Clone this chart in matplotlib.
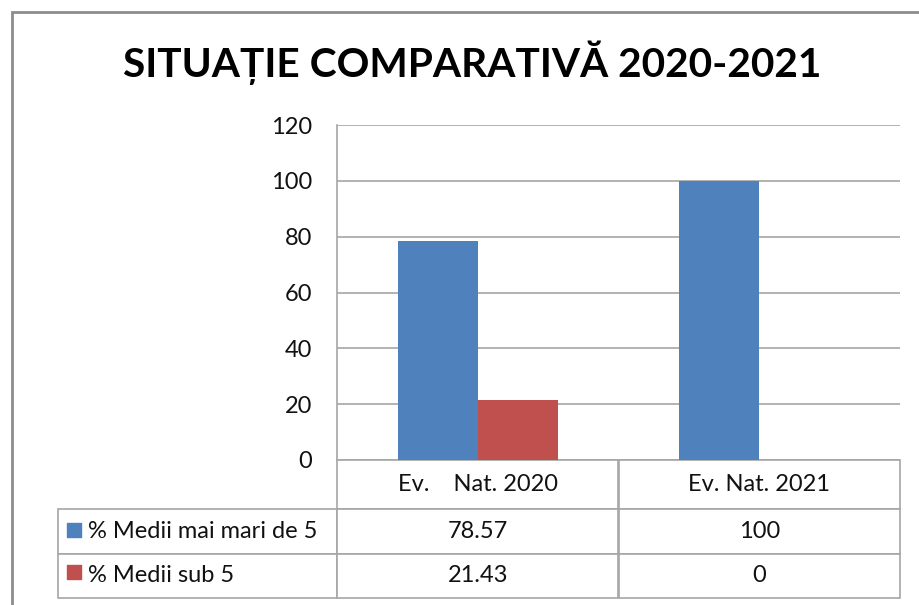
import matplotlib
matplotlib.use("Agg")
import matplotlib.pyplot as plt
from matplotlib.patches import Rectangle
import numpy as np

# ---- data ----
categories = ["Ev.    Nat. 2020", "Ev. Nat. 2021"]
series_names = ["% Medii mai mari de 5", "% Medii sub 5"]
series_above = [78.57, 100]
series_below = [21.43, 0]
cell_text = [["78.57", "100"], ["21.43", "0"]]
y_ticks = [0, 20, 40, 60, 80, 100, 120]
title = "SITUAȚIE COMPARATIVĂ 2020-2021"

colors = ["#4F81BD", "#C0504D"]
grid_col = "#a6a6a6"

plt.rcParams['font.family'] = ['Lato', 'DejaVu Sans']

W, H = 920, 605
fig = plt.figure(figsize=(W / 100, H / 100), dpi=100)

def fx(px):
    return px / W

def fy(py):
    return 1 - py / H

# chart border
fig.add_artist(Rectangle((fx(12), fy(640)), fx(940) - fx(12), fy(12) - fy(640),
                         transform=fig.transFigure, fill=False,
                         edgecolor="#8c8c8c", linewidth=2))

# plot area
L, R, T, B = 337, 900, 125, 460
PW, PH = R - L, B - T
ax = fig.add_axes([fx(L), fy(B), fx(R) - fx(L), fy(T) - fy(B)])

x = np.arange(len(categories))
bw = 80 / 281.5
ax.bar(x - bw / 2, series_above, bw, color=colors[0], zorder=3)
ax.bar(x + bw / 2, series_below, bw, color=colors[1], zorder=3)
ax.set_xlim(-0.5, len(categories) - 0.5)
ax.set_ylim(0, 120)
ax.set_yticks(y_ticks)
ax.set_yticklabels([str(t) for t in y_ticks], fontsize=17, color="#111111")
ax.tick_params(axis='y', length=0, pad=18)
ax.set_xticks([])
ax.yaxis.grid(True, color=grid_col, linewidth=1.2, zorder=0)
ax.set_axisbelow(True)
for s in ["top", "right", "bottom"]:
    ax.spines[s].set_visible(False)
ax.spines["left"].set_color(grid_col)
ax.spines["left"].set_linewidth(1.2)

# data table (bbox covers the data cells incl. header row; row labels extend left)
ty1 = 598
bbox = [0, -(ty1 - B) / PH, 1, (ty1 - B) / PH]
tbl = ax.table(cellText=cell_text, rowLabels=series_names, colLabels=categories,
               cellLoc='center', rowLoc='left', colLoc='center',
               colWidths=[281.5 / PW, 281.5 / PW], bbox=bbox)
tbl.auto_set_font_size(False)
tbl.set_fontsize(17)
row_h = {0: 49, 1: 45, 2: 44}
for (r, c), cell in tbl.get_celld().items():
    cell.set_edgecolor(grid_col)
    cell.set_linewidth(1.2)
    cell.set_height(row_h[r] / PH)
    cell.get_text().set_color("#111111")
    if c == -1:
        cell.set_width(280 / PW)
        cell.PAD = 30 / 280

# legend keys in the table
for i, col in enumerate(colors):
    yc = [530, 572][i]
    ax.scatter([(74 - L) / PW], [-(yc - B) / PH], marker='s', s=105,
               color=col, transform=ax.transAxes, clip_on=False, zorder=5)

t = fig.text(fx(472), fy(63), title, ha='center', va='center',
             fontsize=35, fontweight='bold')
# fit title width to the reference span (~700 px)
r = fig.canvas.get_renderer()
wpx = t.get_window_extent(r).width
t.set_fontsize(35 * 700 / wpx)

fig.savefig("out.png", dpi=100)
